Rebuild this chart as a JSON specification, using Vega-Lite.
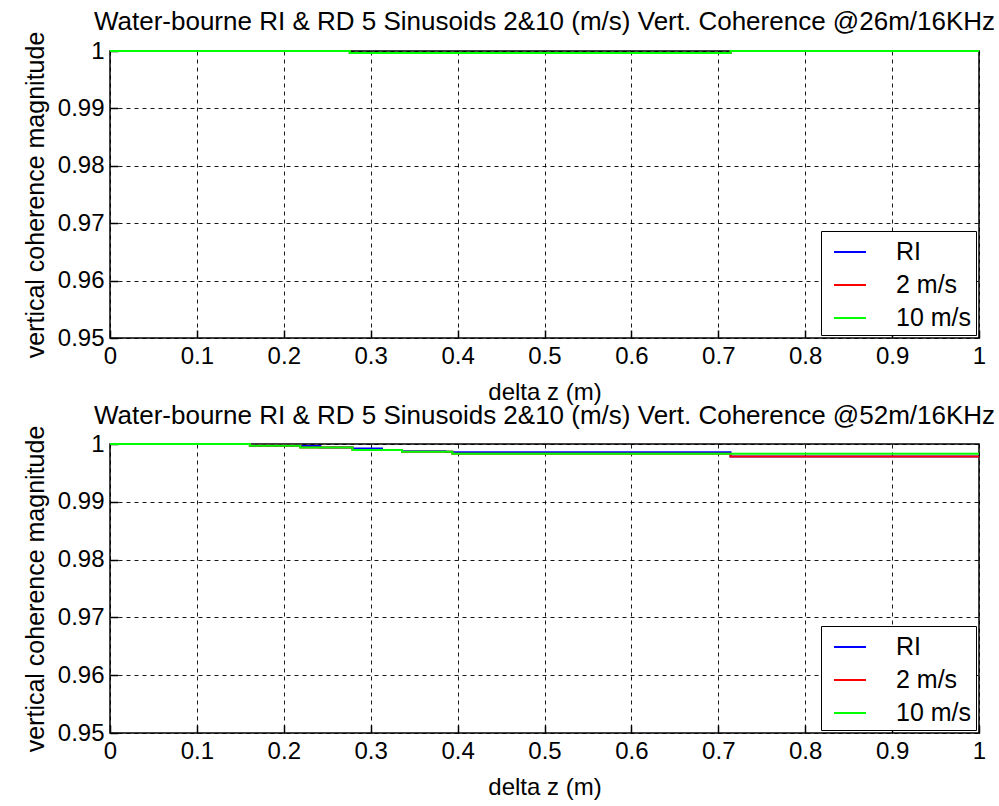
{
  "$schema": "https://vega.github.io/schema/vega-lite/v6.json",
  "background": "white",
  "padding": {"top": 8, "left": 22, "right": 0, "bottom": 0},
  "datasets": {
    "d26": [
      {"dz": 0, "coh": 1, "series": "RI"},
      {"dz": 0.276, "coh": 0.99966, "series": "RI"},
      {"dz": 0.714, "coh": 1, "series": "RI"},
      {"dz": 1, "coh": 1, "series": "RI"},
      {"dz": 0, "coh": 1, "series": "2 m/s"},
      {"dz": 0.276, "coh": 0.99966, "series": "2 m/s"},
      {"dz": 0.714, "coh": 1, "series": "2 m/s"},
      {"dz": 1, "coh": 1, "series": "2 m/s"},
      {"dz": 0, "coh": 1, "series": "10 m/s"},
      {"dz": 0.276, "coh": 0.99966, "series": "10 m/s"},
      {"dz": 0.714, "coh": 1, "series": "10 m/s"},
      {"dz": 1, "coh": 1, "series": "10 m/s"}
    ],
    "d52": [
      {"dz": 0, "coh": 1, "series": "RI"},
      {"dz": 0.161, "coh": 0.99969, "series": "RI"},
      {"dz": 0.219, "coh": 0.99965, "series": "RI"},
      {"dz": 0.242, "coh": 0.99939, "series": "RI"},
      {"dz": 0.279, "coh": 0.99922, "series": "RI"},
      {"dz": 0.313, "coh": 0.99896, "series": "RI"},
      {"dz": 0.336, "coh": 0.99875, "series": "RI"},
      {"dz": 0.386, "coh": 0.99865, "series": "RI"},
      {"dz": 0.394, "coh": 0.99856, "series": "RI"},
      {"dz": 0.714, "coh": 0.99784, "series": "RI"},
      {"dz": 1, "coh": 0.99784, "series": "RI"},
      {"dz": 0, "coh": 1, "series": "2 m/s"},
      {"dz": 0.161, "coh": 0.99969, "series": "2 m/s"},
      {"dz": 0.219, "coh": 0.99939, "series": "2 m/s"},
      {"dz": 0.279, "coh": 0.99896, "series": "2 m/s"},
      {"dz": 0.336, "coh": 0.99865, "series": "2 m/s"},
      {"dz": 0.394, "coh": 0.9983, "series": "2 m/s"},
      {"dz": 0.714, "coh": 0.99784, "series": "2 m/s"},
      {"dz": 1, "coh": 0.99784, "series": "2 m/s"},
      {"dz": 0, "coh": 1, "series": "10 m/s"},
      {"dz": 0.161, "coh": 0.99969, "series": "10 m/s"},
      {"dz": 0.219, "coh": 0.99939, "series": "10 m/s"},
      {"dz": 0.279, "coh": 0.99896, "series": "10 m/s"},
      {"dz": 0.336, "coh": 0.99865, "series": "10 m/s"},
      {"dz": 0.394, "coh": 0.9983, "series": "10 m/s"},
      {"dz": 1, "coh": 0.9983, "series": "10 m/s"}
    ]
  },
  "config": {
    "font": "Liberation Sans",
    "view": {"stroke": "black", "strokeWidth": 1.5},
    "axis": {
      "domain": false,
      "grid": true,
      "gridColor": "black",
      "gridDash": [4, 4],
      "gridOpacity": 0.9,
      "tickColor": "black",
      "tickSize": -8,
      "tickWidth": 1.5,
      "labelFlush": false,
      "labelColor": "black",
      "labelFontSize": 24,
      "labelFont": "Liberation Sans",
      "titleFont": "Liberation Sans",
      "titleFontSize": 24,
      "titleFontWeight": "normal",
      "titleColor": "black"
    },
    "title": {"font": "Liberation Sans", "fontSize": 26, "fontWeight": "normal", "color": "black", "anchor": "middle", "offset": -4},
    "legend": {
      "orient": "bottom-right",
      "offset": 3,
      "strokeColor": "black",
      "fillColor": "white",
      "padding": 4,
      "symbolType": "stroke",
      "symbolSize": 1024,
      "symbolStrokeWidth": 2,
      "symbolOffset": 8,
      "labelFontSize": 25,
      "labelFont": "Liberation Sans",
      "labelColor": "black",
      "rowPadding": 3,
      "labelOffset": 29
    },
    "concat": {"spacing": -3}
  },
  "vconcat": [
    {
      "width": 869,
      "height": 287,
      "title": "Water-bourne RI & RD 5 Sinusoids 2&10 (m/s) Vert. Coherence @26m/16KHz",
      "data": {"name": "d26"},
      "mark": {"type": "line", "interpolate": "step-after", "strokeWidth": 2},
      "encoding": {
        "x": {"field": "dz", "type": "quantitative", "title": "delta z (m)",
          "scale": {"domain": [0, 1], "nice": false},
          "axis": {"values": [0, 0.1, 0.2, 0.3, 0.4, 0.5, 0.6, 0.7, 0.8, 0.9, 1], "format": "~g", "labelPadding": 14, "titlePadding": 12}},
        "y": {"field": "coh", "type": "quantitative", "title": "vertical coherence magnitude",
          "scale": {"domain": [0.95, 1], "nice": false, "zero": false},
          "axis": {"values": [0.95, 0.96, 0.97, 0.98, 0.99, 1], "format": ".2~f", "labelPadding": 14, "titlePadding": 9, "titleFontSize": 25}},
        "color": {"field": "series", "type": "nominal", "title": null,
          "scale": {"domain": ["RI", "2 m/s", "10 m/s"], "range": ["#0000ff", "#ff0000", "#00ff00"]}}
      }
    },
    {
      "width": 869,
      "height": 289,
      "title": "Water-bourne RI & RD 5 Sinusoids 2&10 (m/s) Vert. Coherence @52m/16KHz",
      "data": {"name": "d52"},
      "mark": {"type": "line", "interpolate": "step-after", "strokeWidth": 2},
      "encoding": {
        "x": {"field": "dz", "type": "quantitative", "title": "delta z (m)",
          "scale": {"domain": [0, 1], "nice": false},
          "axis": {"values": [0, 0.1, 0.2, 0.3, 0.4, 0.5, 0.6, 0.7, 0.8, 0.9, 1], "format": "~g", "labelPadding": 14, "titlePadding": 12}},
        "y": {"field": "coh", "type": "quantitative", "title": "vertical coherence magnitude",
          "scale": {"domain": [0.95, 1], "nice": false, "zero": false},
          "axis": {"values": [0.95, 0.96, 0.97, 0.98, 0.99, 1], "format": ".2~f", "labelPadding": 14, "titlePadding": 9, "titleFontSize": 25}},
        "color": {"field": "series", "type": "nominal", "title": null,
          "scale": {"domain": ["RI", "2 m/s", "10 m/s"], "range": ["#0000ff", "#ff0000", "#00ff00"]}}
      }
    }
  ],
  "resolve": {"legend": {"color": "independent"}}
}
